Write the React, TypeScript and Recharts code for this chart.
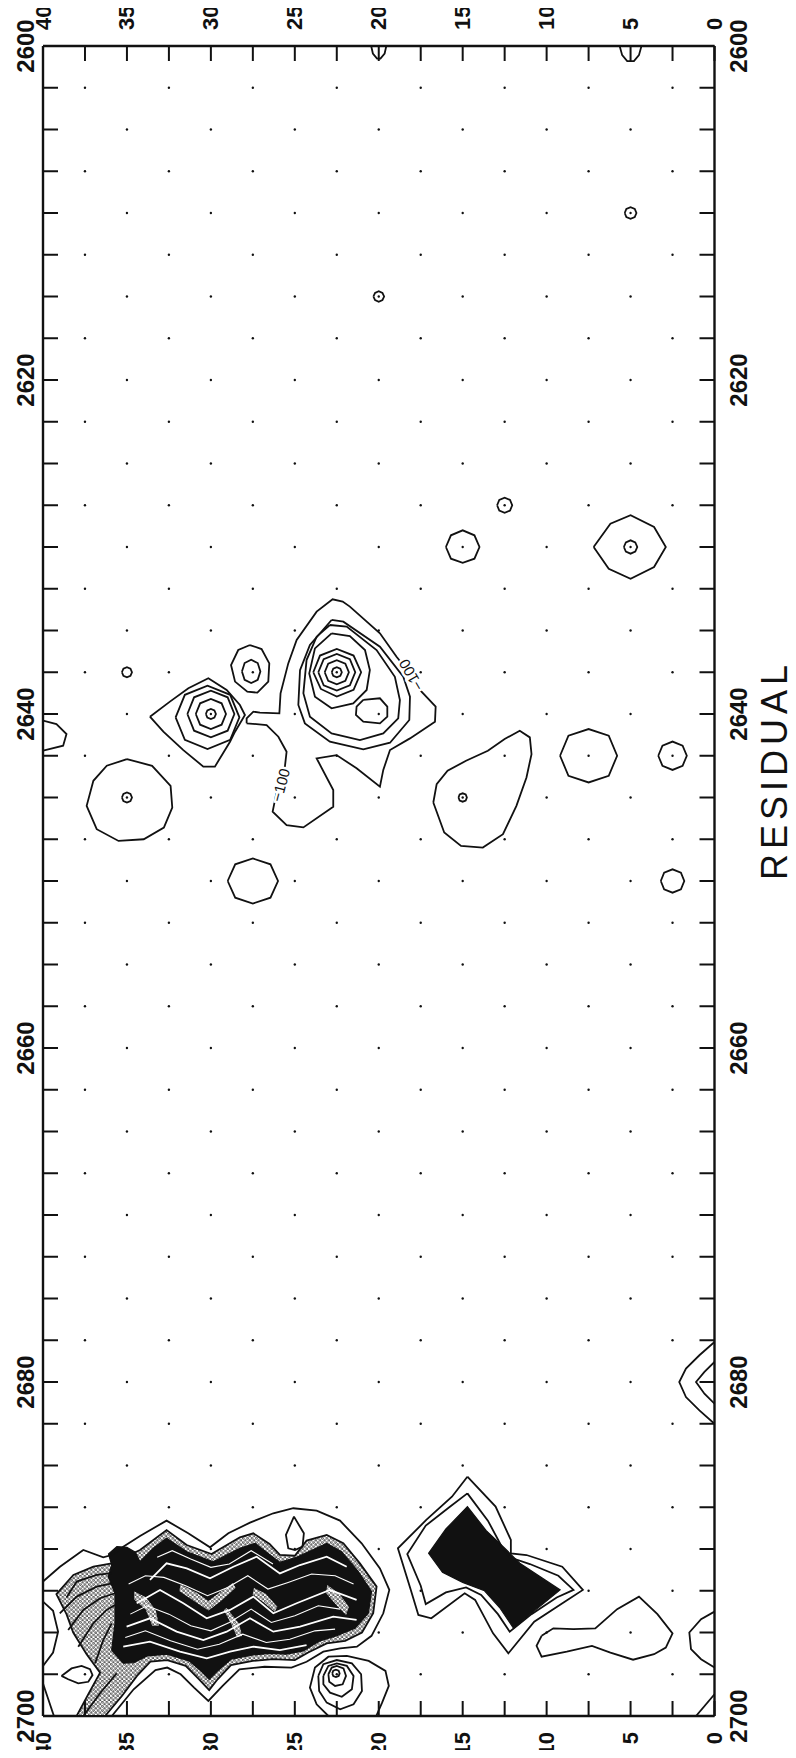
import React from 'react'
import { ScatterChart, Scatter, XAxis, YAxis } from 'recharts'

type Pt = [number, number]

// axis ticks and labels
const xTicks = [0, 2.5, 5, 7.5, 10, 12.5, 15, 17.5, 20, 22.5, 25, 27.5, 30, 32.5, 35, 37.5, 40]
const xLabels = [0, 5, 10, 15, 20, 25, 30, 35, 40]
const yTicks = [
  2600, 2602.5, 2605, 2607.5, 2610, 2612.5, 2615, 2617.5, 2620, 2622.5, 2625, 2627.5, 2630, 2632.5,
  2635, 2637.5, 2640, 2642.5, 2645, 2647.5, 2650, 2652.5, 2655, 2657.5, 2660, 2662.5, 2665, 2667.5,
  2670, 2672.5, 2675, 2677.5, 2680, 2682.5, 2685, 2687.5, 2690, 2692.5, 2695, 2697.5, 2700,
]
const yLabels = [2600, 2620, 2640, 2660, 2680, 2700]

// sample grid (staggered rows)
const oddRowCols = [2.5, 7.5, 12.5, 17.5, 22.5, 27.5, 32.5, 37.5]
const evenRowCols = [5, 10, 15, 20, 25, 30, 35]

// contour lines, [residue, frequency]
const topEdgeLoops: Pt[][] = [
  [[20.45, 2600], [20.35, 2600.45], [20.1, 2600.75], [19.9, 2600.75], [19.65, 2600.45], [19.55, 2600]],
  [[5.65, 2600], [5.5, 2600.55], [5.2, 2600.9], [4.8, 2600.9], [4.5, 2600.55], [4.35, 2600]],
]

const upperLoops: Pt[][] = [
  [[5.35, 2610], [5.25, 2610.25], [5, 2610.35], [4.75, 2610.25], [4.65, 2610], [4.75, 2609.75], [5, 2609.65], [5.25, 2609.75], [5.35, 2610]],
  [[20.32, 2615], [20.22, 2615.22], [20, 2615.32], [19.78, 2615.22], [19.68, 2615], [19.78, 2614.78], [20, 2614.68], [20.22, 2614.78], [20.32, 2615]],
  [[12.95, 2627.5], [12.82, 2627.82], [12.5, 2627.95], [12.18, 2627.82], [12.05, 2627.5], [12.18, 2627.18], [12.5, 2627.05], [12.82, 2627.18], [12.95, 2627.5]],
  [[16.0, 2630], [15.7, 2630.7], [15, 2630.95], [14.3, 2630.7], [14.0, 2630], [14.3, 2629.3], [15, 2629.0], [15.7, 2629.3], [16.0, 2630]],
  [[7.2, 2630], [6.3, 2631.3], [5, 2631.9], [3.6, 2631.2], [2.9, 2630], [3.6, 2628.8], [5, 2628.1], [6.2, 2628.6], [7.2, 2630]],
  [[5.4, 2630], [5.28, 2630.28], [5, 2630.4], [4.72, 2630.28], [4.6, 2630], [4.72, 2629.72], [5, 2629.6], [5.28, 2629.72], [5.4, 2630]],
]

const clusterLines: Pt[][] = [
  // peak at 22.5
  [[22.8, 2637.5], [22.71, 2637.71], [22.5, 2637.8], [22.29, 2637.71], [22.2, 2637.5], [22.29, 2637.29], [22.5, 2637.2], [22.71, 2637.29], [22.8, 2637.5]],
  [[23.22, 2637.5], [23.01, 2638.01], [22.5, 2638.22], [21.99, 2638.01], [21.78, 2637.5], [21.99, 2636.99], [22.5, 2636.78], [23.01, 2636.99], [23.22, 2637.5]],
  [[23.6, 2637.5], [23.28, 2638.28], [22.5, 2638.6], [21.72, 2638.28], [21.4, 2637.5], [21.72, 2636.72], [22.5, 2636.4], [23.28, 2636.72], [23.6, 2637.5]],
  [[23.9, 2637.5], [23.45, 2638.5], [22.5, 2638.95], [21.5, 2638.55], [21.05, 2637.5], [21.5, 2636.5], [22.5, 2636.1], [23.5, 2636.5], [23.9, 2637.5]],
  [[22.81, 2635.17], [21.72, 2635.33], [20.82, 2636.17], [20.53, 2637.37], [20.72, 2638.56], [21.52, 2639.36], [22.81, 2639.66], [23.8, 2638.96], [24.14, 2637.57], [23.8, 2636.07], [22.81, 2635.17]],
  [[22.91, 2634.67], [21.91, 2634.77], [20.13, 2636.17], [19.04, 2637.77], [18.74, 2639.16], [18.84, 2640.26], [19.73, 2641.16], [21.12, 2641.56], [22.81, 2641.16], [24.1, 2640.16], [24.49, 2638.76], [24.3, 2636.77], [23.7, 2635.37], [22.91, 2634.67]],
  [[22.81, 2634.37], [22.11, 2634.47], [19.93, 2635.97], [18.54, 2637.77], [18.14, 2638.96], [18.18, 2640.36], [19.33, 2641.72], [20.92, 2642.12], [22.91, 2641.66], [24.4, 2640.56], [24.79, 2639.46], [24.69, 2637.37], [24.1, 2635.87], [22.81, 2634.37]],
  [[20.92, 2639.16], [19.93, 2639.06], [19.49, 2639.56], [19.49, 2640.16], [19.93, 2640.56], [20.92, 2640.46], [21.36, 2640.06], [21.32, 2639.56], [20.92, 2639.16]],
  // -100 envelope
  [[27.87, 2640.56], [26.68, 2640.66], [25.98, 2641.36], [25.49, 2642.26], [25.59, 2643.15], [25.98, 2644.15], [26.32, 2645.85], [25.49, 2646.65], [24.49, 2646.79], [22.71, 2645.55], [22.71, 2644.55], [23.7, 2642.66], [22.51, 2642.46], [21.32, 2643.25], [19.93, 2644.35], [19.73, 2643.35], [19.33, 2642.16], [18.14, 2641.46], [16.65, 2640.46], [16.61, 2639.56], [17.55, 2638.56], [18.14, 2637.57], [18.94, 2636.57], [19.93, 2635.17], [21.72, 2633.57], [22.15, 2633.27], [22.75, 2633.13], [23.7, 2633.87], [24.89, 2635.57], [25.39, 2636.97], [25.85, 2638.76], [25.92, 2639.96], [27.08, 2639.92], [27.47, 2639.86], [27.87, 2640.26], [27.87, 2640.56]],
  // ring at 27.5
  [[27.67, 2635.87], [26.98, 2636.11], [26.52, 2636.97], [26.58, 2638.06], [27.23, 2638.72], [27.83, 2638.66], [28.56, 2638.06], [28.8, 2637.07], [28.37, 2636.17], [27.67, 2635.87]],
  [[28.15, 2637.45], [27.99, 2637.95], [27.6, 2638.15], [27.21, 2637.95], [27.05, 2637.45], [27.21, 2636.95], [27.6, 2636.75], [27.99, 2636.95], [28.15, 2637.45]],
  // peak at 30
  [[30.3, 2640], [30.21, 2640.21], [30, 2640.3], [29.79, 2640.21], [29.7, 2640], [29.79, 2639.79], [30, 2639.7], [30.21, 2639.79], [30.3, 2640]],
  [[30.9, 2640], [30.64, 2640.64], [30, 2640.9], [29.36, 2640.64], [29.1, 2640], [29.36, 2639.36], [30, 2639.1], [30.64, 2639.36], [30.9, 2640]],
  [[31.4, 2640], [31.0, 2641.0], [30, 2641.4], [29.0, 2641.0], [28.6, 2640], [29.0, 2639.0], [30, 2638.6], [31.0, 2639.0], [31.4, 2640]],
  [[32.1, 2640.2], [31.55, 2641.55], [30.2, 2642.1], [28.85, 2641.55], [28.3, 2640.2], [28.85, 2638.85], [30.2, 2638.3], [31.55, 2638.85], [32.1, 2640.2]],
  [[33.63, 2640.16], [32.44, 2639.26], [31.34, 2638.46], [30.15, 2637.86], [29.06, 2638.56], [28.27, 2639.46], [27.97, 2640.06], [28.56, 2641.06], [28.86, 2641.66], [29.76, 2643.15], [30.45, 2643.15], [31.64, 2642.16], [32.83, 2641.06], [33.63, 2640.16]],
]

const sideLoops: Pt[][] = [
  [[35.3, 2637.5], [35.21, 2637.71], [35, 2637.8], [34.79, 2637.71], [34.7, 2637.5], [34.79, 2637.29], [35, 2637.2], [35.21, 2637.29], [35.3, 2637.5]],
  [[35, 2642.7], [33.5, 2643.1], [32.4, 2644.3], [32.3, 2645.6], [32.8, 2646.8], [34, 2647.5], [35.5, 2647.6], [36.8, 2646.9], [37.4, 2645.5], [37, 2644], [36.2, 2643.1], [35, 2642.7]],
  [[35.3, 2645], [35.21, 2645.21], [35, 2645.3], [34.79, 2645.21], [34.7, 2645], [34.79, 2644.79], [35, 2644.7], [35.21, 2644.79], [35.3, 2645]],
  [[9.2, 2642.5], [8.7, 2643.7], [7.5, 2644.1], [6.3, 2643.7], [5.8, 2642.5], [6.3, 2641.3], [7.5, 2640.9], [8.7, 2641.3], [9.2, 2642.5]],
  [[3.35, 2642.5], [3.1, 2643.1], [2.5, 2643.35], [1.9, 2643.1], [1.65, 2642.5], [1.9, 2641.9], [2.5, 2641.65], [3.1, 2641.9], [3.35, 2642.5]],
  [[16.75, 2645.3], [16.55, 2644.2], [15.9, 2643.4], [14.8, 2642.8], [13.5, 2642.2], [12.5, 2641.5], [11.6, 2641.0], [11.0, 2641.4], [10.9, 2642.4], [11.2, 2643.8], [11.8, 2645.5], [12.6, 2647.2], [13.8, 2648.0], [15.1, 2647.9], [16.1, 2647.1], [16.75, 2645.3]],
  [[15.25, 2645], [15.18, 2645.18], [15, 2645.25], [14.82, 2645.18], [14.75, 2645], [14.82, 2644.82], [15, 2644.75], [15.18, 2644.82], [15.25, 2645]],
  [[29, 2650], [28.55, 2651.0], [27.5, 2651.35], [26.45, 2651.0], [26, 2650], [26.45, 2649.0], [27.5, 2648.65], [28.55, 2649.0], [29, 2650]],
  [[3.2, 2650], [3.0, 2650.5], [2.5, 2650.7], [2.0, 2650.5], [1.8, 2650], [2.0, 2649.5], [2.5, 2649.3], [3.0, 2649.5], [3.2, 2650]],
]

const edgeArcs: Pt[][] = [
  [[40, 2640.4], [39.2, 2640.6], [38.6, 2641.2], [38.8, 2641.9], [40, 2642.2]],
  [[0, 2677.6], [0.9, 2678.4], [1.7, 2679.2], [2.1, 2680], [1.7, 2680.9], [0.9, 2681.7], [0, 2682.5]],
  [[0, 2678.8], [0.6, 2679.4], [1.1, 2680], [0.6, 2680.7], [0, 2681.3]],
  [[0, 2693.75], [0.8, 2694.2], [1.5, 2695.0], [1.4, 2696.0], [0.8, 2696.6], [0, 2697.1]],
  [[1.1, 2700], [0, 2698.7]],
  [[40, 2693.15], [39.4, 2693.7], [39.1, 2694.95], [39.4, 2696.2], [40, 2697.0]],
  [[40, 2698.05], [39.35, 2700]],
]

const blobLines: Pt[][] = [
  [[40, 2691.95], [38.99, 2691.06], [37.6, 2690.06], [36.41, 2690.5], [35.91, 2690.36], [35.22, 2689.86], [34.22, 2689.22], [32.64, 2688.3], [31.35, 2689.06], [30.05, 2689.9], [28.96, 2689.06], [27.67, 2688.42], [26.28, 2687.86], [25.09, 2687.56], [23.7, 2687.7], [22.31, 2688.3], [21.02, 2689.66], [19.93, 2691.16], [19.37, 2692.45], [19.73, 2693.85], [20.43, 2695.2], [21.3, 2695.85], [22.3, 2695.95], [23.3, 2696.15], [24.3, 2696.75], [25.2, 2697.1], [26.8, 2697.05], [28.3, 2697.2], [29.3, 2698.2], [30.15, 2699.1], [31.0, 2698.3], [31.8, 2697.5], [32.6, 2697.1], [33.3, 2697.25], [34.6, 2698.4], [35.9, 2700]],
  [[25.05, 2688.06], [25.53, 2689.16], [25.39, 2689.96], [24.99, 2690.06], [24.54, 2689.86], [24.46, 2689.06], [25.05, 2688.06]],
  [[38.9, 2697.6], [38.3, 2697.15], [37.7, 2697.0], [37.2, 2697.2], [37.05, 2697.55], [37.3, 2697.95], [37.9, 2698.05], [38.5, 2697.8], [38.9, 2697.6]],
  [[38.6, 2692.9], [37.99, 2691.95], [36.8, 2691.55], [35.91, 2691.45]],
  [[39.0, 2693.85], [37.99, 2692.85], [36.8, 2692.25], [35.81, 2692.05]],
  [[38.5, 2694.85], [37.6, 2693.65], [36.6, 2692.95], [35.71, 2692.65]],
  [[37.9, 2695.85], [37.0, 2694.45], [36.21, 2693.65], [35.71, 2693.35]],
  [[36.9, 2696.85], [36.41, 2695.45], [35.91, 2694.45]],
  [[37.6, 2700], [36.6, 2698.64], [35.61, 2697.44]],
]

const ringGroup: Pt[][] = [
  [[23.0, 2700], [23.7, 2699.3], [24.1, 2698.3], [23.8, 2697.1], [23.0, 2696.45], [21.9, 2696.4], [20.6, 2696.7], [19.6, 2697.3], [19.4, 2698.2], [19.8, 2699.2], [20.15, 2700]],
  [[23.6, 2697.6], [23.3, 2696.9], [22.5, 2696.65], [21.6, 2696.85], [21.05, 2697.5], [21.0, 2698.5], [21.5, 2699.3], [22.3, 2699.6], [23.1, 2699.2], [23.55, 2698.5], [23.6, 2697.6]],
  [[23.3, 2697.6], [23.0, 2697.0], [22.5, 2696.85], [21.9, 2697.0], [21.5, 2697.6], [21.6, 2698.4], [22.2, 2698.85], [22.9, 2698.6], [23.3, 2698.1], [23.3, 2697.6]],
  [[23.0, 2697.5], [22.8, 2697.1], [22.5, 2697.0], [22.1, 2697.15], [21.95, 2697.6], [22.15, 2698.1], [22.6, 2698.2], [22.95, 2697.95], [23.0, 2697.5]],
  [[22.77, 2697.45], [22.71, 2697.61], [22.55, 2697.67], [22.39, 2697.61], [22.33, 2697.45], [22.39, 2697.29], [22.55, 2697.23], [22.71, 2697.29], [22.77, 2697.45]],
]

const butterflyLines: Pt[][] = [
  [[14.72, 2685.67], [13.04, 2687.46], [12.13, 2689.46], [12.13, 2690.26], [11.2, 2690.36], [9.07, 2691.06], [7.84, 2692.45], [8.9, 2693.15], [10.74, 2694.35], [12.28, 2696.25], [13.19, 2695.05], [14.26, 2693.05], [14.88, 2692.65], [16.87, 2694.15], [17.64, 2693.95], [18.09, 2692.45], [18.86, 2689.96], [17.17, 2688.26], [15.64, 2686.87], [14.72, 2685.67]],
  [[14.72, 2686.67], [13.5, 2688.3], [12.6, 2690.0], [12.2, 2690.5], [11.0, 2690.9], [9.3, 2691.6], [8.4, 2692.45], [9.4, 2692.9], [10.9, 2693.9], [12.2, 2694.95], [12.9, 2693.9], [13.9, 2692.75], [14.8, 2692.3], [16.0, 2692.6], [17.2, 2693.3], [17.5, 2692.2], [18.3, 2690.3], [17.2, 2688.6], [15.8, 2687.5], [14.72, 2686.67]],
]

const lowerLoops: Pt[][] = [
  [[10.3, 2695.2], [9.6, 2694.75], [8.4, 2694.8], [7.1, 2694.75], [5.8, 2693.6], [4.5, 2692.85], [3.4, 2693.9], [2.5, 2695.05], [2.9, 2695.9], [3.6, 2696.3], [4.85, 2696.63], [6.2, 2696.2], [7.3, 2695.8], [8.8, 2696.15], [10.3, 2696.45], [10.6, 2695.8], [10.3, 2695.2]],
]

// shaded areas
const stippleAreas: Pt[][] = [
  [[39.2, 2692.7], [38.19, 2691.55], [37.0, 2691.06], [35.91, 2690.86], [34.22, 2690.06], [32.64, 2688.86], [31.44, 2689.76], [29.96, 2690.3], [28.27, 2689.3], [27.47, 2689.06], [26.5, 2689.7], [25.89, 2690.35], [25.0, 2690.4], [24.3, 2689.5], [23.1, 2689.16], [22.11, 2689.66], [21.12, 2690.86], [20.13, 2692.25], [20.33, 2693.85], [21.0, 2695.0], [22.0, 2695.5], [23.1, 2695.65], [24.2, 2696.2], [25.0, 2696.65], [26.3, 2696.6], [27.5, 2696.7], [28.8, 2696.95], [29.6, 2697.8], [30.1, 2698.45], [30.7, 2697.8], [31.5, 2697.0], [32.6, 2696.65], [33.6, 2696.75], [34.4, 2697.6], [35.3, 2698.8], [36.3, 2700], [38.0, 2700], [37.3, 2698.7], [36.6, 2697.4], [37.4, 2696.3], [38.2, 2695.0], [38.6, 2693.9]],
]

const denseAreas: Pt[][] = [
  [[35.91, 2690.96], [36.1, 2690.3], [35.6, 2689.85], [35.0, 2689.9], [34.5, 2690.2], [34.22, 2690.76], [33.43, 2689.96], [32.64, 2689.36], [31.44, 2690.16], [29.86, 2690.76], [28.27, 2689.96], [27.37, 2689.66], [25.89, 2690.8], [24.89, 2690.5], [23.1, 2689.66], [22.21, 2690.16], [21.22, 2691.36], [20.43, 2692.55], [20.62, 2693.85], [21.42, 2694.75], [22.5, 2695.2], [23.5, 2695.5], [24.5, 2696.1], [25.5, 2696.3], [26.5, 2696.25], [27.5, 2696.35], [28.8, 2696.6], [29.6, 2697.3], [30.1, 2697.8], [30.6, 2697.3], [31.3, 2696.7], [32.6, 2696.3], [33.8, 2696.4], [34.6, 2696.8], [35.22, 2696.84], [35.91, 2696.05], [35.71, 2694.45], [35.71, 2692.65], [36.11, 2691.66]],
  [[14.72, 2687.46], [13.6, 2688.9], [12.45, 2690.0], [11.6, 2690.85], [9.2, 2692.45], [10.6, 2693.6], [11.97, 2694.75], [12.8, 2693.5], [13.7, 2692.5], [15.0, 2692.0], [16.2, 2691.4], [17.03, 2690.26], [16.0, 2688.8]],
]

const bandAreas: Pt[][] = [
  [[34.62, 2692.45], [33.83, 2692.85], [33.23, 2693.65], [33.03, 2694.65], [33.53, 2694.65], [33.93, 2693.65], [34.62, 2693.05]],
  [[31.84, 2692.05], [30.85, 2692.55], [30.15, 2693.05], [29.36, 2692.45], [28.66, 2691.95], [28.47, 2692.35], [29.36, 2693.15], [30.15, 2693.75], [31.05, 2693.15], [31.94, 2692.55]],
  [[27.47, 2692.25], [26.68, 2692.65], [25.98, 2693.45], [26.18, 2693.85], [26.88, 2693.25], [27.57, 2692.75]],
  [[29.06, 2693.45], [28.27, 2694.45], [28.07, 2695.25], [28.47, 2695.35], [28.86, 2694.45], [29.3, 2693.65]],
  [[23.1, 2692.05], [22.31, 2692.65], [21.72, 2693.45], [21.92, 2694.05], [22.51, 2693.45], [23.2, 2692.65]],
]

const whiteStreaks: Pt[][] = [
  [[33.63, 2691.85], [32.64, 2690.86], [31.44, 2691.16], [30.05, 2691.75], [28.66, 2691.06], [27.27, 2690.46], [25.89, 2691.46], [24.69, 2690.96], [23.1, 2690.46], [21.91, 2691.06]],
  [[34.42, 2693.25], [33.03, 2692.45], [31.64, 2693.25], [30.25, 2694.15], [28.86, 2693.65], [27.47, 2692.85], [26.28, 2693.85], [24.89, 2693.25], [22.91, 2692.45], [21.32, 2693.05]],
  [[35.02, 2694.65], [33.63, 2694.15], [32.04, 2694.95], [30.45, 2695.45], [29.06, 2694.95], [27.67, 2694.15], [26.28, 2694.95], [24.69, 2694.65], [22.71, 2694.05], [21.32, 2694.25]],
  [[35.22, 2695.85], [33.63, 2695.55], [31.84, 2696.15], [30.25, 2696.55], [28.86, 2696.15], [27.47, 2695.85], [25.89, 2696.05], [24.3, 2695.75]],
]

const fineStreaks: Pt[][] = [
  [[34.9, 2692.1], [33.9, 2691.6], [32.8, 2691.7], [31.5, 2692.2], [30.2, 2692.8], [29.0, 2692.3], [27.8, 2691.6], [26.6, 2692.4], [25.4, 2692.0], [24.0, 2691.5], [22.6, 2691.6], [21.5, 2692.1]],
  [[34.8, 2693.9], [33.8, 2693.4], [32.5, 2693.9], [31.2, 2694.6], [30.0, 2694.9], [28.9, 2694.4], [27.6, 2693.6], [26.4, 2694.4], [25.0, 2694.0], [23.6, 2693.4], [22.3, 2693.6]],
  [[35.1, 2695.3], [33.9, 2694.9], [32.4, 2695.5], [30.8, 2696.0], [29.5, 2695.7], [28.1, 2695.1], [26.7, 2695.6], [25.3, 2695.4], [23.8, 2694.9], [22.6, 2694.8]],
  [[33.2, 2690.5], [32.3, 2690.1], [31.2, 2690.6], [30.0, 2691.1], [28.9, 2690.9], [27.6, 2690.1], [26.3, 2690.9]],
]

// level labels
const levelLabels = [
  { x: 25.85, y: 2644.25, text: '−100', angle: -75 },
  { x: 18.08, y: 2637.67, text: '−100', angle: -120 },
]

const INK = '#111'
const FONT = "'Liberation Sans', Arial, Helvetica, sans-serif"
const CHART_W = 796
const CHART_H = 1758
const PLOT = { left: 43, top: 46, right: 714.5, bottom: 1716 }

const gridRows = yTicks.filter((v) => v > 2600 && v < 2700)
const gridDots = gridRows.flatMap((y, i) => (i % 2 === 0 ? oddRowCols : evenRowCols).map((x) => ({ x, y })))

const toXY = (line: Pt[]) => line.map(([x, y]) => ({ x, y }))

function closedPath(points: { x: number; y: number }[]) {
  return points.map((p, i) => `${i ? 'L' : 'M'}${p.x.toFixed(1)},${p.y.toFixed(1)}`).join(' ') + ' Z'
}

const noShape = () => <g />

function stippleFill(id: string) {
  return (props: any) => (
    <g>
      <defs>
        <pattern id={id} width={4.4} height={4.2} patternUnits="userSpaceOnUse">
          <rect width={4.4} height={4.2} fill="#fff" />
          <circle cx={1.2} cy={1.1} r={0.9} fill="none" stroke={INK} strokeWidth={0.8} />
          <circle cx={3.4} cy={3.2} r={0.9} fill="none" stroke={INK} strokeWidth={0.8} />
        </pattern>
      </defs>
      <path d={closedPath(props.points)} fill={`url(#${id})`} stroke={INK} strokeWidth={1.8} />
    </g>
  )
}

const solidFill = (props: any) => (
  <path d={closedPath(props.points)} fill={INK} stroke={INK} strokeWidth={1.2} />
)

const labelStyle = { fontFamily: FONT, fontWeight: 700, fill: INK }

function TopTick({ x, payload }: any) {
  const v = payload.value
  const ly = PLOT.top - 16
  return (
    <g>
      <line x1={x} x2={x} y1={PLOT.top} y2={PLOT.top + 15} stroke={INK} strokeWidth={2} />
      {xLabels.includes(v) && (
        <text x={x} y={ly} transform={`rotate(-90 ${x} ${ly})`} textAnchor="start" dominantBaseline="central" fontSize={22} {...labelStyle}>
          {v}
        </text>
      )}
    </g>
  )
}

function BottomTick({ x, payload }: any) {
  const v = payload.value
  const ly = PLOT.bottom + 16
  return (
    <g>
      <line x1={x} x2={x} y1={PLOT.bottom} y2={PLOT.bottom - 15} stroke={INK} strokeWidth={2} />
      {xLabels.includes(v) && (
        <text x={x} y={ly} transform={`rotate(-90 ${x} ${ly})`} textAnchor="end" dominantBaseline="central" fontSize={22} {...labelStyle}>
          {v}
        </text>
      )}
    </g>
  )
}

function LeftTick({ y, payload }: any) {
  const v = payload.value
  const lx = 25
  return (
    <g>
      <line x1={PLOT.left} x2={PLOT.left + 15} y1={y} y2={y} stroke={INK} strokeWidth={2} />
      {yLabels.includes(v) && (
        <text x={lx} y={y} transform={`rotate(-90 ${lx} ${y})`} textAnchor="middle" dominantBaseline="central" fontSize={24} {...labelStyle}>
          {v}
        </text>
      )}
    </g>
  )
}

function RightTick({ y, payload }: any) {
  const v = payload.value
  const lx = 738.5
  return (
    <g>
      <line x1={PLOT.right} x2={PLOT.right - 15} y1={y} y2={y} stroke={INK} strokeWidth={2} />
      {yLabels.includes(v) && (
        <text x={lx} y={y} transform={`rotate(-90 ${lx} ${y})`} textAnchor="middle" dominantBaseline="central" fontSize={24} {...labelStyle}>
          {v}
        </text>
      )}
    </g>
  )
}

const LevelLabel = (props: any) => {
  const { cx, cy, payload } = props
  return (
    <text
      x={cx}
      y={cy}
      transform={`rotate(${payload.angle} ${cx} ${cy})`}
      textAnchor="middle"
      dominantBaseline="central"
      fontSize={15}
      fontFamily={FONT}
      fill={INK}
      stroke="#fff"
      strokeWidth={5}
      paintOrder="stroke"
    >
      {payload.text}
    </text>
  )
}

const GridDot = (props: any) => <circle cx={props.cx} cy={props.cy} r={1.2} fill={INK} />

const lineStyle = { stroke: INK, strokeWidth: 1.8, fill: 'none' }
const streakStyle = { stroke: '#fff', strokeWidth: 1.8, fill: 'none' }
const fineStreakStyle = { stroke: '#fff', strokeWidth: 1.1, fill: 'none' }

export default function App() {
  const contourGroups = [topEdgeLoops, upperLoops, clusterLines, sideLoops, edgeArcs, blobLines, ringGroup, butterflyLines, lowerLoops]
  return (
    <div style={{ position: 'relative', width: CHART_W, height: CHART_H, margin: -8, background: '#fff', overflow: 'hidden' }}>
      <ScatterChart width={CHART_W} height={CHART_H} margin={{ top: 16, right: 51.5, bottom: 12, left: 13 }}>
        <XAxis xAxisId="b" orientation="bottom" type="number" dataKey="x" domain={[0, 40]} reversed allowDataOverflow ticks={xTicks} interval={0} height={30} tickLine={false} axisLine={{ stroke: INK, strokeWidth: 2.4 }} tick={<BottomTick />} />
        <XAxis xAxisId="t" orientation="top" type="number" dataKey="x" domain={[0, 40]} reversed allowDataOverflow ticks={xTicks} interval={0} height={30} tickLine={false} axisLine={{ stroke: INK, strokeWidth: 2.4 }} tick={<TopTick />} />
        <YAxis yAxisId="l" orientation="left" type="number" dataKey="y" domain={[2600, 2700]} reversed allowDataOverflow ticks={yTicks} interval={0} width={30} tickLine={false} axisLine={{ stroke: INK, strokeWidth: 2.4 }} tick={<LeftTick />} />
        <YAxis yAxisId="r" orientation="right" type="number" dataKey="y" domain={[2600, 2700]} reversed allowDataOverflow ticks={yTicks} interval={0} width={30} tickLine={false} axisLine={{ stroke: INK, strokeWidth: 2.4 }} tick={<RightTick />} />

        <Scatter xAxisId="t" yAxisId="r" data={gridDots} shape={GridDot} isAnimationActive={false} />

        {stippleAreas.map((a, i) => (
          <Scatter key={`s${i}`} xAxisId="b" yAxisId="l" data={toXY(a)} shape={noShape} line={stippleFill(`stip${i}`)} isAnimationActive={false} />
        ))}
        {denseAreas.map((a, i) => (
          <Scatter key={`d${i}`} xAxisId="b" yAxisId="l" data={toXY(a)} shape={noShape} line={solidFill} isAnimationActive={false} />
        ))}
        {bandAreas.map((a, i) => (
          <Scatter key={`bd${i}`} xAxisId="b" yAxisId="l" data={toXY(a)} shape={noShape} line={stippleFill(`band${i}`)} isAnimationActive={false} />
        ))}
        {whiteStreaks.map((a, i) => (
          <Scatter key={`w${i}`} xAxisId="b" yAxisId="l" data={toXY(a)} shape={noShape} line={streakStyle} isAnimationActive={false} />
        ))}
        {fineStreaks.map((a, i) => (
          <Scatter key={`f${i}`} xAxisId="b" yAxisId="l" data={toXY(a)} shape={noShape} line={fineStreakStyle} isAnimationActive={false} />
        ))}
        {contourGroups.flatMap((group, g) =>
          group.map((c, i) => (
            <Scatter key={`c${g}-${i}`} xAxisId="b" yAxisId="l" data={toXY(c)} shape={noShape} line={lineStyle} isAnimationActive={false} />
          ))
        )}
        <Scatter xAxisId="b" yAxisId="l" data={levelLabels} shape={LevelLabel} isAnimationActive={false} />
      </ScatterChart>
      <div
        style={{
          position: 'absolute',
          left: 775,
          top: 770,
          transform: 'translate(-50%, -50%) rotate(-90deg)',
          fontFamily: FONT,
          fontSize: 36,
          letterSpacing: 5,
          color: INK,
          whiteSpace: 'nowrap',
        }}
      >
        RESIDUAL
      </div>
    </div>
  )
}
